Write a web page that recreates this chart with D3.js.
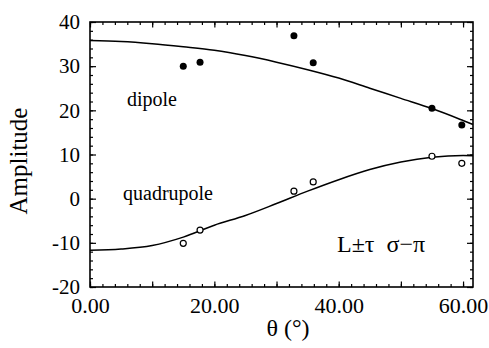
<!DOCTYPE html>
<html>
<head>
<meta charset="utf-8">
<script src="https://cdn.jsdelivr.net/npm/d3@7"></script>
<style>
  body { margin: 0; background: #fff; }
  svg { display: block; }
  svg text { font-family: "Liberation Serif", "Times New Roman", Times, "DejaVu Serif", serif; }
</style>
</head>
<body>
<svg id="chart" width="489" height="348"></svg>
<script>
// measured points
const thetaObs = [15.0, 17.7, 32.8, 35.9, 55.0, 59.8];
const dipoleObs = [30.0, 30.9, 36.9, 30.8, 20.5, 16.7];
const quadObs = [-10.1, -7.1, 1.7, 3.8, 9.6, 8.0];

// fitted curves
const thetaFit = [0, 5, 10, 15, 20, 25, 30, 35, 40, 45, 50, 55, 60, 61.6];
const dipoleFit = [35.8, 35.6, 35.1, 34.4, 33.6, 32.4, 30.9, 29.2, 27.3, 25.0, 22.7, 20.4, 17.7, 16.8];
const quadFit = [-11.7, -11.4, -10.6, -8.7, -6.0, -3.8, -1.1, 1.7, 4.3, 6.6, 8.3, 9.4, 9.8, 9.7];

const xTicks = [0, 20, 40, 60];
const yTicks = [-20, -10, 0, 10, 20, 30, 40];

const width = 489, height = 348;
const margin = { top: 22, right: 16, bottom: 61, left: 90 };
const serif = 'Liberation Serif';

const svg = d3.select('#chart');

const x = d3.scaleLinear().domain([0, 61.6]).range([margin.left, width - margin.right]);
const y = d3.scaleLinear().domain([-20, 40]).range([height - margin.bottom, margin.top]);

const xMinor = d3.range(0, 61.6, 2);
const xMid = d3.range(0, 61.6, 10);
const yMinor = d3.range(-20, 40.1, 2);

function ticksOnly(axis) {
  return (g) => {
    g.call(axis);
    g.select('.domain').remove();
    g.selectAll('line').attr('stroke', '#000').attr('stroke-width', 1.2);
  };
}

// minor + mid ticks on all four sides, pointing inward
const bottomY = height - margin.bottom, topY = margin.top;
const leftX = margin.left, rightX = width - margin.right;

svg.append('g').attr('transform', `translate(0,${bottomY})`)
  .call(ticksOnly(d3.axisBottom(x).tickValues(xMinor).tickSize(-3).tickFormat('')));
svg.append('g').attr('transform', `translate(0,${bottomY})`)
  .call(ticksOnly(d3.axisBottom(x).tickValues(xMid).tickSize(-5.5).tickFormat('')));
svg.append('g').attr('transform', `translate(0,${topY})`)
  .call(ticksOnly(d3.axisTop(x).tickValues(xMinor).tickSize(-3).tickFormat('')));
svg.append('g').attr('transform', `translate(0,${topY})`)
  .call(ticksOnly(d3.axisTop(x).tickValues(xMid).tickSize(-5.5).tickFormat('')));

svg.append('g').attr('transform', `translate(${leftX},0)`)
  .call(ticksOnly(d3.axisLeft(y).tickValues(yMinor).tickSize(-3).tickFormat('')));
svg.append('g').attr('transform', `translate(${leftX},0)`)
  .call(ticksOnly(d3.axisLeft(y).tickValues(yTicks).tickSize(-6).tickFormat('')));
svg.append('g').attr('transform', `translate(${rightX},0)`)
  .call(ticksOnly(d3.axisRight(y).tickValues(yMinor).tickSize(-3).tickFormat('')));
svg.append('g').attr('transform', `translate(${rightX},0)`)
  .call(ticksOnly(d3.axisRight(y).tickValues(yTicks).tickSize(-6).tickFormat('')));

// tick labels
const xLab = svg.append('g').attr('transform', `translate(0,${bottomY})`)
  .call(d3.axisBottom(x).tickValues(xTicks).tickSize(0).tickPadding(10)
    .tickFormat(d => d.toFixed(2)));
xLab.select('.domain').remove();
xLab.selectAll('text').attr('fill', '#000')
  .style('font-family', serif).style('font-size', '22px');

const yLab = svg.append('g').attr('transform', `translate(${leftX},0)`)
  .call(d3.axisLeft(y).tickValues(yTicks).tickSize(0).tickPadding(10)
    .tickFormat(d => String(d)));
yLab.select('.domain').remove();
yLab.selectAll('text').attr('fill', '#000')
  .style('font-family', serif).style('font-size', '21px');

// frame
svg.append('rect')
  .attr('x', leftX).attr('y', topY)
  .attr('width', rightX - leftX).attr('height', bottomY - topY)
  .attr('fill', 'none').attr('stroke', '#000').attr('stroke-width', 1.6);

// curves
const line = (vals) => d3.line()
  .x((d, i) => x(thetaFit[i]))
  .y(d => y(d))
  .curve(d3.curveMonotoneX)(vals);

svg.append('path').attr('d', line(dipoleFit))
  .attr('fill', 'none').attr('stroke', '#000').attr('stroke-width', 1.5);
svg.append('path').attr('d', line(quadFit))
  .attr('fill', 'none').attr('stroke', '#000').attr('stroke-width', 1.5);

// markers
svg.append('g').selectAll('circle').data(thetaObs).join('circle')
  .attr('cx', d => x(d))
  .attr('cy', (d, i) => y(dipoleObs[i]))
  .attr('r', 3.5).attr('fill', '#000');

svg.append('g').selectAll('circle').data(thetaObs).join('circle')
  .attr('cx', d => x(d))
  .attr('cy', (d, i) => y(quadObs[i]))
  .attr('r', 3).attr('fill', '#fff').attr('stroke', '#000').attr('stroke-width', 1.2);

// annotations
const label = (t, px, py, size) => svg.append('text')
  .attr('x', px).attr('y', py)
  .style('font-family', serif).style('font-size', size + 'px')
  .style('white-space', 'pre').text(t);

label('dipole', 127, 106, 20);
label('quadrupole', 123, 200, 20);
label('L±τ  σ−π', 337, 252, 24);

// axis titles
svg.append('text')
  .attr('transform', `translate(27,${161}) rotate(-90)`)
  .attr('text-anchor', 'middle')
  .style('font-family', serif).style('font-size', '25px').text('Amplitude');
svg.append('text')
  .attr('x', 288).attr('y', 336)
  .attr('text-anchor', 'middle')
  .style('font-family', serif).style('font-size', '24px').text('θ (°)');
</script>
</body>
</html>
